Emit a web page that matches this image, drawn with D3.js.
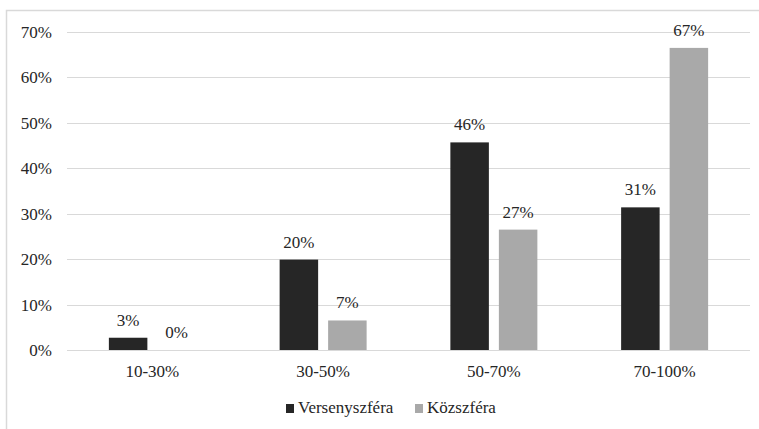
<!DOCTYPE html>
<html>
<head>
<meta charset="utf-8">
<script src="https://cdn.jsdelivr.net/npm/d3@7"></script>
<style>
  body { margin: 0; background: #ffffff; }
  svg text.lbl { font-family: "Liberation Serif", "FreeSerif" !important; font-size: 17px !important; }
</style>
</head>
<body>
<div id="chart"></div>
<script>
// categories and series
var categories = ["10-30%", "30-50%", "50-70%", "70-100%"];
var series = ["Versenyszféra", "Közszféra"];
var versenyszfera = [0.027, 0.199, 0.457, 0.314];
var kozszfera = [0.0, 0.065, 0.265, 0.665];
var yTicks = [0, 0.1, 0.2, 0.3, 0.4, 0.5, 0.6, 0.7];

const dark_colour = "#262626";
const light_colour = "#a9a9a9";
const grid_colour = "#d9d9d9";
const text_colour = "#262626";

var W = 759, H = 429;
var plot = {left: 67, right: 750, top: 32, bottom: 350};

var svg = d3.select("#chart").append("svg")
    .attr("width", W)
    .attr("height", H);

function styleText(sel) {
  return sel.attr("class", "lbl")
    .style("font-family", function() { return "Liberation Serif"; }, "important")
    .attr("font-size", 17)
    .style("fill", text_colour);
}

// chart area border (right and bottom edges run past the window)
svg.append("rect")
    .attr("x", 6.5).attr("y", 10.5)
    .attr("width", 760).attr("height", 430)
    .attr("fill", "none")
    .attr("stroke", grid_colour)
    .attr("stroke-width", 1.5);

var x0 = d3.scaleBand().domain(categories).range([plot.left, plot.right]);
var y = d3.scaleLinear().domain([0, 0.7]).range([plot.bottom, plot.top]);
var fmt = d3.format(".0%");

// gridlines
svg.append("g").selectAll("line")
    .data(yTicks)
    .enter().append("line")
    .attr("x1", plot.left).attr("x2", plot.right)
    .attr("y1", function(d) { return Math.round(y(d)) + 0.5; })
    .attr("y2", function(d) { return Math.round(y(d)) + 0.5; })
    .attr("stroke", grid_colour)
    .attr("stroke-width", 1.2);

// y tick labels
svg.append("g").selectAll("text")
    .data(yTicks)
    .enter().append("text")
    .attr("x", 52)
    .attr("y", function(d) { return y(d); })
    .attr("dy", "0.35em")
    .attr("text-anchor", "end")
    .call(styleText)
    .text(fmt);

var rows = categories.map(function(c, i) {
  return {cat: c, values: [versenyszfera[i], kozszfera[i]]};
});

var groupW = 87;
var x1 = d3.scaleBand().domain(series).range([0, groupW]).paddingInner(10 / 48.5);
var colours = d3.scaleOrdinal().domain(series).range([dark_colour, light_colour]);

var groups = svg.append("g").selectAll("g")
    .data(rows)
    .enter().append("g")
    .attr("transform", function(d) {
      return "translate(" + (x0(d.cat) + (x0.bandwidth() - groupW) / 2) + ",0)";
    });

var cells = groups.selectAll("g")
    .data(function(d) { return d.values.map(function(v, j) { return {s: series[j], v: v}; }); })
    .enter();

cells.append("rect")
    .attr("x", function(d) { return x1(d.s); })
    .attr("y", function(d) { return y(d.v); })
    .attr("width", x1.bandwidth())
    .attr("height", function(d) { return plot.bottom - y(d.v); })
    .attr("fill", function(d) { return colours(d.s); });

cells.append("text")
    .attr("x", function(d) { return x1(d.s) + x1.bandwidth() / 2; })
    .attr("y", function(d) { return y(d.v) - 12; })
    .attr("text-anchor", "middle")
    .call(styleText)
    .text(function(d) { return fmt(d.v); });

// x axis labels
svg.append("g").selectAll("text")
    .data(categories)
    .enter().append("text")
    .attr("x", function(d) { return x0(d) + x0.bandwidth() / 2; })
    .attr("y", 377)
    .attr("text-anchor", "middle")
    .call(styleText)
    .text(function(d) { return d; });

// legend
var legendX = [286, 415];
var legend = svg.append("g").selectAll("g")
    .data(series)
    .enter().append("g")
    .attr("transform", function(d, i) { return "translate(" + legendX[i] + ",404)"; });

legend.append("rect")
    .attr("width", 8).attr("height", 9)
    .attr("fill", function(d) { return colours(d); });

legend.append("text")
    .attr("x", 12)
    .attr("y", 9)
    .call(styleText)
    .text(function(d) { return d; });
</script>
</body>
</html>
